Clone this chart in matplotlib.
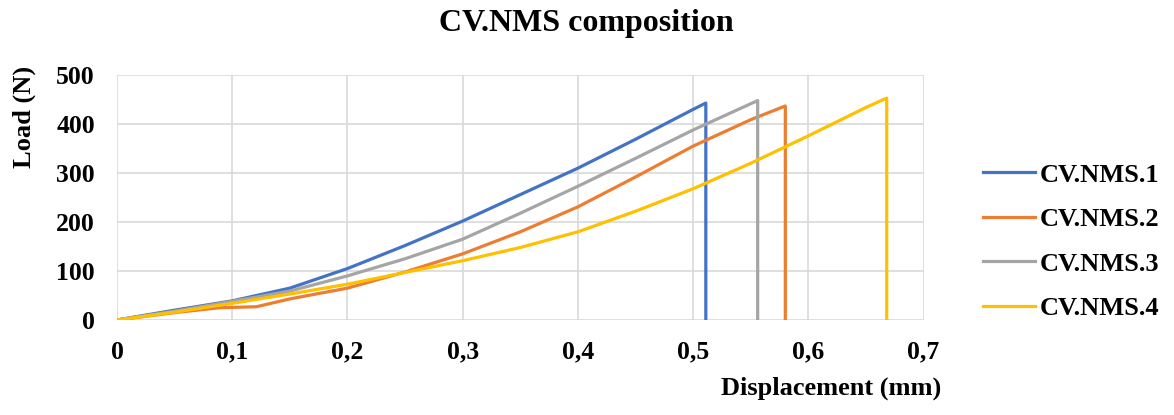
import numpy as np
import matplotlib as mpl
import matplotlib.pyplot as plt

# data (displacement mm, load N)
nms1_x = [0, 0.05, 0.1, 0.15, 0.2, 0.25, 0.3, 0.35, 0.4, 0.45, 0.5, 0.511, 0.511]
nms1_y = [0, 20, 39, 65, 105, 152, 202, 256, 310, 369, 430, 443, 0]

nms2_x = [0, 0.05, 0.089, 0.105, 0.121, 0.15, 0.2, 0.25, 0.3, 0.35, 0.4, 0.45, 0.5, 0.55, 0.58, 0.58]
nms2_y = [0, 15, 25, 26, 27, 43, 65, 98, 135, 180, 231, 292, 355, 409, 437, 0]

nms3_x = [0, 0.05, 0.1, 0.15, 0.2, 0.25, 0.3, 0.35, 0.4, 0.45, 0.5, 0.556, 0.556]
nms3_y = [0, 18, 38, 59, 90, 125, 165, 218, 273, 330, 388, 448, 0]

nms4_x = [0, 0.05, 0.1, 0.15, 0.2, 0.25, 0.3, 0.35, 0.4, 0.45, 0.5, 0.55, 0.6, 0.65, 0.668, 0.668]
nms4_y = [0, 16, 34, 53, 73, 97, 121, 148, 180, 222, 268, 320, 376, 434, 453, 0]

series = [
    ('CV.NMS.1', nms1_x, nms1_y, '#4472C4'),
    ('CV.NMS.2', nms2_x, nms2_y, '#ED7D31'),
    ('CV.NMS.3', nms3_x, nms3_y, '#A5A5A5'),
    ('CV.NMS.4', nms4_x, nms4_y, '#FFC000'),
]

mpl.rcParams['font.family'] = ['Liberation Serif', 'DejaVu Serif']
mpl.rcParams['font.weight'] = 'bold'

fig = plt.figure(figsize=(11.74, 4.15), dpi=100)
ax = fig.add_axes([0.0997, 0.229, 0.687, 0.590])

for name, xs, ys, col in series:
    ax.plot(xs, ys, color=col, lw=2.3, label=name)

ax.set_xlim(0, 0.7)
ax.set_ylim(0, 500)
ax.set_xticks(np.arange(0, 0.71, 0.1))
ax.set_xticklabels(['0', '0,1', '0,2', '0,3', '0,4', '0,5', '0,6', '0,7'])
ax.set_yticks(np.arange(0, 501, 100))
ax.grid(True, color='#D9D9D9', lw=1.2)
ax.set_axisbelow(True)
for s in ax.spines.values():
    s.set_visible(False)
ax.tick_params(axis='x', length=0, labelsize=18.5, pad=15)
ax.tick_params(axis='y', length=0, labelsize=18.5, pad=16)
for lab in ax.get_xticklabels() + ax.get_yticklabels():
    lab.set_fontweight('bold')

fig.text(0.499, 0.944, 'CV.NMS composition', ha='center', va='center',
         fontsize=23, fontweight='bold')
fig.text(0.802, 0.050, 'Displacement (mm)', ha='right', va='baseline',
         fontsize=19, fontweight='bold')
fig.text(0.021, 0.718, 'Load (N)', ha='center', va='center', rotation=90,
         fontsize=19, fontweight='bold')

leg = fig.legend(loc='upper left', bbox_to_anchor=(0.837, 0.607), frameon=False,
                 prop={'size': 19, 'weight': 'bold'}, handlelength=2.0,
                 handletextpad=0.15, labelspacing=0.8, borderpad=0,
                 borderaxespad=0)

fig.savefig('out.png', dpi=100)
